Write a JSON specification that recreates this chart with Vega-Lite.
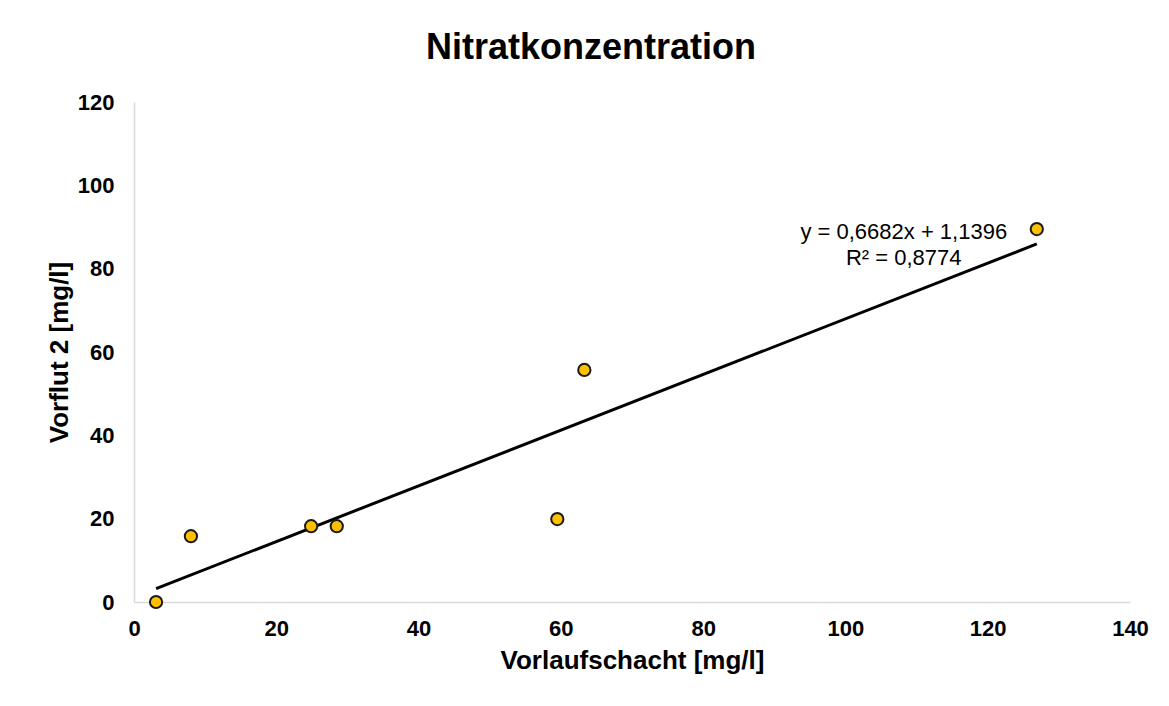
{
  "$schema": "https://vega.github.io/schema/vega-lite/v6.json",
  "autosize": {"type": "none"},
  "width": 996,
  "height": 500,
  "padding": {"left": 134, "top": 102, "right": 39, "bottom": 104},
  "background": "white",
  "title": {
    "text": "Nitratkonzentration",
    "font": "Liberation Sans",
    "fontSize": 36,
    "fontWeight": "bold",
    "color": "#000000",
    "anchor": "middle",
    "frame": "group",
    "dx": -41,
    "baseline": "alphabetic",
    "offset": -4
  },
  "config": {
    "view": {"stroke": null},
    "axis": {
      "grid": false,
      "ticks": false,
      "labelFlush": false,
      "domainColor": "#d9d9d9",
      "domainWidth": 1.5,
      "labelFont": "Liberation Sans",
      "labelFontSize": 22,
      "labelFontWeight": "bold",
      "labelColor": "#000000",
      "titleFont": "Liberation Sans",
      "titleFontSize": 26,
      "titleFontWeight": "bold",
      "titleColor": "#000000"
    }
  },
  "datasets": {
    "points": [
      {"x": 3.1, "y": 0},
      {"x": 8.0, "y": 15.8},
      {"x": 24.9, "y": 18.2},
      {"x": 28.5, "y": 18.2},
      {"x": 59.5, "y": 19.9},
      {"x": 63.3, "y": 55.7},
      {"x": 126.9, "y": 89.5}
    ],
    "trend": [
      {"x": 3.1, "y": 3.21},
      {"x": 126.9, "y": 85.93}
    ],
    "label": [
      {"x": 108.2, "y": 87.1, "t": "y = 0,6682x + 1,1396"},
      {"x": 108.2, "y": 80.9, "t": "R² = 0,8774"}
    ]
  },
  "layer": [
    {
      "data": {"name": "trend"},
      "mark": {"type": "line", "color": "#000000", "strokeWidth": 3},
      "encoding": {
        "x": {
          "field": "x", "type": "quantitative",
          "scale": {"domain": [0, 140], "nice": false},
          "axis": {"values": [0, 20, 40, 60, 80, 100, 120, 140], "labelPadding": 16, "title": "Vorlaufschacht [mg/l]", "titlePadding": 8}
        },
        "y": {
          "field": "y", "type": "quantitative",
          "scale": {"domain": [0, 120], "nice": false},
          "axis": {"values": [0, 20, 40, 60, 80, 100, 120], "labelPadding": 20, "title": "Vorflut 2 [mg/l]", "titlePadding": 5}
        }
      }
    },
    {
      "data": {"name": "points"},
      "mark": {"type": "point", "shape": "circle", "filled": true, "fill": "#FFC000", "stroke": "#1a1a1a", "strokeWidth": 2, "size": 150, "opacity": 1},
      "encoding": {
        "x": {"field": "x", "type": "quantitative"},
        "y": {"field": "y", "type": "quantitative"}
      }
    },
    {
      "data": {"name": "label"},
      "mark": {"type": "text", "font": "Liberation Sans", "fontSize": 22, "align": "center", "baseline": "alphabetic", "color": "#000000"},
      "encoding": {
        "x": {"field": "x", "type": "quantitative"},
        "y": {"field": "y", "type": "quantitative"},
        "text": {"field": "t"}
      }
    }
  ]
}
